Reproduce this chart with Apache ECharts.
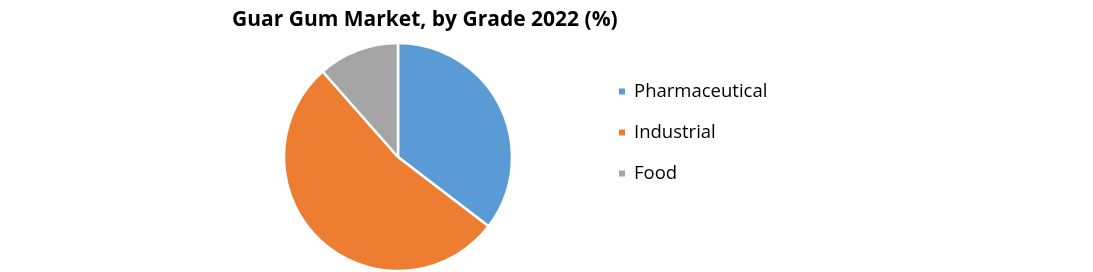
<!DOCTYPE html>
<html><head><meta charset="utf-8">
<script src="https://cdn.jsdelivr.net/npm/echarts@6/dist/echarts.min.js"></script>
<style>html,body{margin:0;padding:0;background:#fff}#c{width:1093px;height:272px}</style>
</head><body><div id="c"></div>
<script>
const categories = ['Pharmaceutical', 'Industrial', 'Food'];
const values = [35.4, 53.1, 11.5];
const colors = ['#5b9bd5', '#ed7d31', '#a5a5a5'];

const chart = echarts.init(document.getElementById('c'));
chart.setOption({
  animation: false,
  title: {
    text: 'Guar Gum Market, by Grade 2022 (%)',
    left: 227, top: 5,
    textStyle: {fontFamily: 'Open Sans', fontWeight: 'bold', fontSize: 21, color: '#000'}
  },
  legend: {
    orient: 'vertical', left: 612, top: 74,
    icon: 'rect', itemWidth: 8, itemHeight: 8, itemGap: 16,
    textStyle: {fontFamily: 'Open Sans', fontSize: 18.5, lineHeight: 25, color: '#000', padding: [0,0,0,3]},
    data: categories
  },
  series: [{
    type: 'pie',
    center: [398, 157], radius: 114,
    startAngle: 90, clockwise: true,
    label: {show: false}, labelLine: {show: false},
    itemStyle: {borderColor: '#fff', borderWidth: 2.5},
    emphasis: {disabled: true},
    data: categories.map((c, i) => ({name: c, value: values[i], itemStyle: {color: colors[i]}}))
  }]
});
</script></body></html>
